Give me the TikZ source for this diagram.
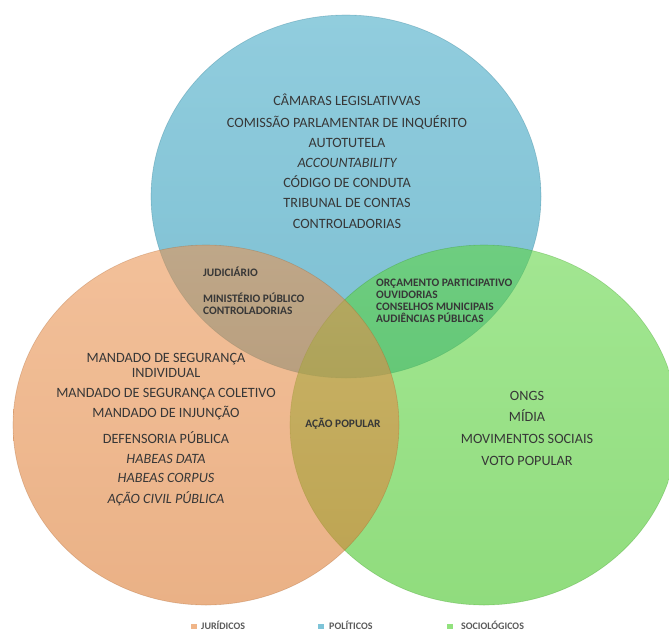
\documentclass[tikz,border=0pt]{standalone}
\usepackage{fontspec}
\setmainfont{Carlito}
\definecolor{jur}{RGB}{230,127,49}
\definecolor{pol}{RGB}{32,153,187}
\definecolor{soc}{RGB}{67,205,33}
\definecolor{txt}{RGB}{55,55,55}
\definecolor{legtext}{RGB}{90,90,90}
\begin{document}
\begin{tikzpicture}[x=1pt,y=-1pt,
  venn/.style={fill opacity=0.58, draw opacity=0.3, line width=0.6pt},
  maintxt/.style={font=\fontsize{14.2}{16}\selectfont, text=txt, anchor=base, inner sep=0pt},
  mainit/.style={maintxt, font=\fontsize{14.2}{16}\selectfont\itshape},
  inter/.style={font=\fontsize{11.4}{13}\selectfont\bfseries, text=txt, anchor=base west, inner sep=0pt},
  legbox/.style={minimum width=6.5pt, minimum height=5pt, inner sep=0pt},
  legtxt/.style={font=\fontsize{10}{11}\selectfont\bfseries, text=legtext, anchor=base west, inner sep=0pt}]
\useasboundingbox (0,0) rectangle (669,632);
\clip (0,0) rectangle (669,632);
% circles
\shade[top color=pol!85!white, bottom color=pol!95!black, venn] (346,196.5) ellipse [x radius=195pt, y radius=181.5pt];
\draw[pol!70!black, venn] (346,196.5) ellipse [x radius=195pt, y radius=181.5pt];
\shade[top color=soc!85!white, bottom color=soc!95!black, venn] (484,425) ellipse [x radius=194pt, y radius=180pt];
\draw[soc!70!black, venn] (484,425) ellipse [x radius=194pt, y radius=180pt];
\shade[top color=jur!85!white, bottom color=jur!95!black, venn] (206,425) ellipse [x radius=193pt, y radius=180pt];
\draw[jur!70!black, venn] (206,425) ellipse [x radius=193pt, y radius=180pt];
% political
\node[maintxt] (p1) at (347,105) {CÂMARAS LEGISLATIVVAS};
\node[maintxt] (p2) at (347,127) {COMISSÃO PARLAMENTAR DE INQUÉRITO};
\node[maintxt] (p3) at (347,147) {AUTOTUTELA};
\node[mainit]  (p4) at (347,167) {ACCOUNTABILITY};
\node[maintxt] (p5) at (347,187) {CÓDIGO DE CONDUTA};
\node[maintxt] (p6) at (347,207) {TRIBUNAL DE CONTAS};
\node[maintxt] (p7) at (347,228) {CONTROLADORIAS};
% juridical
\node[maintxt] (j1) at (166,362) {MANDADO DE SEGURANÇA};
\node[maintxt] (j2) at (166,377) {INDIVIDUAL};
\node[maintxt] (j3) at (166,397) {MANDADO DE SEGURANÇA COLETIVO};
\node[maintxt] (j4) at (166,417) {MANDADO DE INJUNÇÃO};
\node[maintxt] (j5) at (166,443) {DEFENSORIA PÚBLICA};
\node[mainit]  (j6) at (166,463) {HABEAS DATA};
\node[mainit]  (j7) at (166,482) {HABEAS CORPUS};
\node[mainit]  (j8) at (166,503) {AÇÃO CIVIL PÚBLICA};
% sociological
\node[maintxt] (s1) at (527,400) {ONGS};
\node[maintxt] (s2) at (527,421) {MÍDIA};
\node[maintxt] (s3) at (527,443) {MOVIMENTOS SOCIAIS};
\node[maintxt] (s4) at (527,465) {VOTO POPULAR};
% intersections
\node[inter] (jp1) at (203,276) {JUDICIÁRIO};
\node[inter] (jp2) at (203,302) {MINISTÉRIO PÚBLICO};
\node[inter] (jp3) at (203,314) {CONTROLADORIAS};
\node[inter] (ps1) at (376,286) {ORÇAMENTO PARTICIPATIVO};
\node[inter] (ps2) at (376,298) {OUVIDORIAS};
\node[inter] (ps3) at (376,310) {CONSELHOS MUNICIPAIS};
\node[inter] (ps4) at (376,322) {AUDIÊNCIAS PÚBLICAS};
\node[inter, anchor=base] (all) at (343,427) {AÇÃO POPULAR};
% legend
\node[legbox, fill=jur!58!white] (lj) at (194,626.5) {};
\node[legtxt] (ljt) at (201,629.5) {JURÍDICOS};
\node[legbox, fill=pol!58!white] (lp) at (321,626.5) {};
\node[legtxt] (lpt) at (329,629.5) {POLÍTICOS};
\node[legbox, fill=soc!58!white] (ls) at (450,626.5) {};
\node[legtxt] (lst) at (461,629.5) {SOCIOLÓGICOS};
\end{tikzpicture}
\end{document}
